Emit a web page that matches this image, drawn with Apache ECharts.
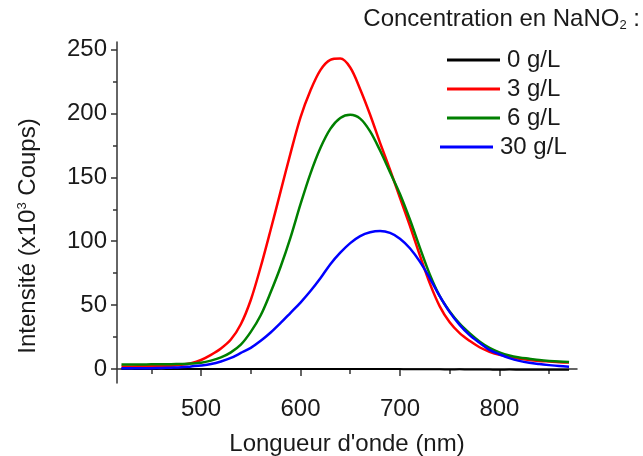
<!DOCTYPE html>
<html><head><meta charset="utf-8">
<script src="https://cdn.jsdelivr.net/npm/echarts@6/dist/echarts.min.js"></script>
<style>html,body{margin:0;padding:0;background:#fff}#c{width:643px;height:456px}</style>
</head><body><div id="c"></div>
<script>
const wavelengths = [420,430,440,450,460,470,480,490,500,510,520,530,540,550,560,570,580,590,600,610,620,630,640,650,660,670,680,690,700,710,720,730,740,750,760,770,780,790,800,810,820,830,840,850,860,870];
const seriesNames = ['0 g/L','3 g/L','6 g/L','30 g/L'];
const conc0 = [0.2,0.1,0,0,0.1,0,0,0,0,0,0,0,0,0,0,0,0,0,0,0,0,0,0,0,0,0,0,0,-0.1,-0.2,-0.2,-0.3,-0.3,-0.4,-0.3,-0.5,-0.4,-0.5,-0.6,-0.5,-0.6,-0.7,-0.6,-0.7,-0.6,-0.7];
const conc3 = [2.0,2.0,2.1,2.2,2.4,2.6,3.2,4.5,7,11,16,23,35,54,80,109,139,169,197,218,234,242,243,236,219,199,177,156,134,112,89,67,49,36.5,28,22,17,13.5,11,9.5,8,7,6.3,5.8,5.3,5];
const conc6 = [3.5,3.5,3.5,3.6,3.6,3.7,3.9,4.2,4.8,6.5,9,13,19,29,42,60,80,103,129,153,173,188,196.5,199,196,186,171,154,137,117,95,74,57,45,35.5,28,21.5,16.5,13,10.5,9,8,7,6.3,5.8,5.5];
const conc30 = [0.5,0.5,0.5,0.6,0.8,1.0,1.3,2.0,2.7,3.8,5.8,8.6,12.5,16.5,22,28.5,36,44,52,61,71,82,91,98.5,104,107,108,106.5,102,94.5,84,71,57,44.5,34.5,26.5,20.5,15,11.5,8.5,6.3,4.8,3.8,3,2.3,1.8];
const xMajorTicks = [500,600,700,800];
const xMinorTicks = [450,550,650,750,850];
const yMajorTicks = [0,50,100,150,200,250];
const yMinorTicks = [25,75,125,175,225];

const colors = ['#000000','#ff0000','#008000','#0000ff'];
const allValues = [conc0, conc3, conc6, conc30];
const FONT = '"Liberation Sans", Arial, sans-serif';
const AX = '#333';
const FS = 24;

const chart = echarts.init(document.getElementById('c'));
const xBase = {type:'value', min:415.5, max:878, gridIndex:0, position:'bottom',
  splitLine:{show:false}};
const yBase = {type:'value', min:-11, max:256, gridIndex:0, position:'left',
  splitLine:{show:false}};

const series = seriesNames.map((n,i)=>({
  name:n, type:'line', xAxisIndex:0, yAxisIndex:0,
  data: wavelengths.map((w,k)=>[w, allValues[i][k]]),
  showSymbol:false, smooth:0.33,
  lineStyle:{color:colors[i], width: i===0?2:2.5},
  itemStyle:{color:colors[i]}, z: 2+i
}));

const legendLefts = [447,447,447,440];
const legendTops = [48,77,106,135];
const legends = seriesNames.map((n,i)=>({
  data:[n], orient:'vertical', left:legendLefts[i], top:legendTops[i],
  itemWidth:53, itemHeight:3, icon:'rect', padding:0,
  textStyle:{fontFamily:FONT, fontSize:FS, color:'#1a1a1a', padding:[0,0,0,2]},
  selectedMode:false
}));

chart.setOption({
  animation:false,
  backgroundColor:'#fff',
  grid:{left:117, right:66, top:42, bottom:73, outerBoundsMode:'none', containLabel:false},
  xAxis:[
    Object.assign({}, xBase, {
      axisLine:{show:true, lineStyle:{color:AX, width:1.5}},
      axisTick:{show:true, length:7, customValues:xMajorTicks, lineStyle:{color:AX, width:1.5}},
      axisLabel:{customValues:xMajorTicks, fontFamily:FONT, fontSize:FS, color:'#1a1a1a', margin:14},
      name:'Longueur d\'onde (nm)', nameLocation:'middle', nameGap:49,
      nameTextStyle:{fontFamily:FONT, fontSize:FS, color:'#1a1a1a'}
    }),
    Object.assign({}, xBase, {
      axisLine:{show:false},
      axisTick:{show:true, length:5, customValues:xMinorTicks, lineStyle:{color:AX, width:1.5}},
      axisLabel:{show:false}
    })
  ],
  yAxis:[
    Object.assign({}, yBase, {
      axisLine:{show:true, lineStyle:{color:AX, width:1.5}},
      axisTick:{show:true, length:6, customValues:yMajorTicks, lineStyle:{color:AX, width:1.5}},
      axisLabel:{customValues:yMajorTicks, fontFamily:FONT, fontSize:FS, color:'#1a1a1a', margin:10}
    }),
    Object.assign({}, yBase, {
      axisLine:{show:false},
      axisTick:{show:true, length:4, customValues:yMinorTicks, lineStyle:{color:AX, width:1.5}},
      axisLabel:{show:false}
    })
  ],
  legend: legends,
  graphic:[
    {type:'text', x:28, y:236, rotation:Math.PI/2,
      style:{text:'{a|Intensité (x10}{s|3}{a| Coups)}', align:'center', verticalAlign:'middle',
        rich:{a:{fontFamily:FONT, fontSize:FS, fill:'#1a1a1a'},
              s:{fontFamily:FONT, fontSize:13, fill:'#1a1a1a', verticalAlign:'top', padding:[0,0,10,0]}}}},
    {type:'text', right:3, top:7,
      style:{text:'{a|Concentration en NaNO}{s|2}{a| :}', 
        rich:{a:{fontFamily:FONT, fontSize:FS, fill:'#1a1a1a'},
              s:{fontFamily:FONT, fontSize:13, fill:'#1a1a1a', padding:[13,0,0,0]}}}}
  ],
  series: series
});
</script></body></html>
